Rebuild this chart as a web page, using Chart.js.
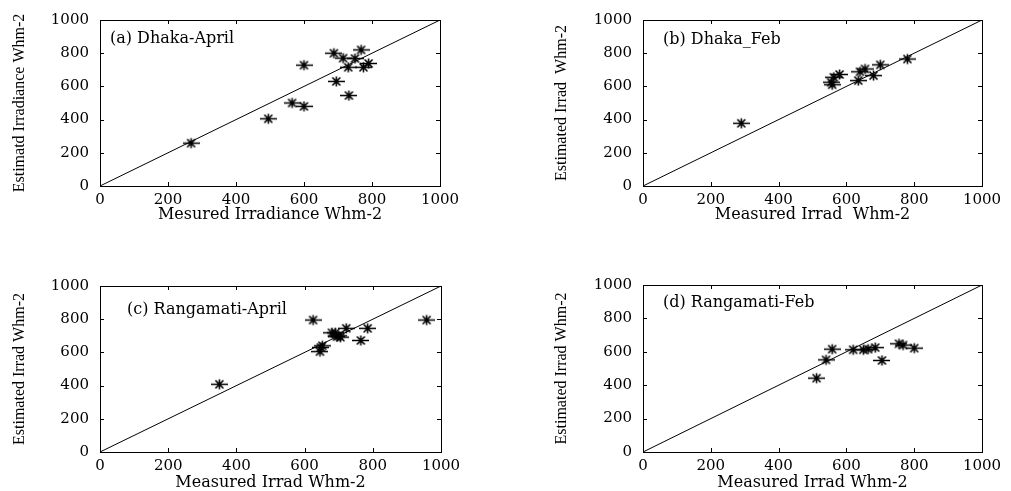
<!DOCTYPE html>
<html>
<head>
<meta charset="utf-8">
<script src="https://cdn.jsdelivr.net/npm/chart.js@4.4.0/dist/chart.umd.min.js"></script>
<style>
body{margin:0;background:#fff;width:1011px;height:491px;overflow:hidden;position:relative}
.pnl{position:absolute}
</style>
</head>
<body>
<div class="pnl" id="boxA"><canvas id="chA"></canvas></div>
<div class="pnl" id="boxB"><canvas id="chB"></canvas></div>
<div class="pnl" id="boxC"><canvas id="chC"></canvas></div>
<div class="pnl" id="boxD"><canvas id="chD"></canvas></div>
<script>
var tickVals = [0, 200, 400, 600, 800, 1000];
var lineX = [0, 1000];
var lineY = [0, 1000];

var dhakaAprX = [268, 495, 565, 600, 600, 688, 715, 750, 768, 730, 775, 790, 695, 732];
var dhakaAprY = [258, 405, 500, 480, 728, 800, 770, 768, 820, 715, 715, 738, 630, 545];
var dhakaFebX = [290, 555, 558, 563, 580, 635, 640, 655, 680, 700, 780];
var dhakaFebY = [378, 625, 610, 655, 672, 635, 688, 705, 665, 730, 765];
var rangAprX = [350, 625, 958, 645, 648, 652, 680, 690, 700, 695, 705, 722, 785, 765];
var rangAprY = [408, 795, 795, 605, 630, 640, 718, 718, 700, 695, 692, 745, 745, 672];
var rangFebX = [512, 540, 558, 620, 650, 664, 685, 705, 755, 767, 800];
var rangFebY = [442, 552, 616, 612, 612, 616, 625, 548, 648, 640, 622];

function pts(xs, ys){
  var out = [];
  for (var i = 0; i < xs.length; i++) out.push({x: xs[i], y: ys[i]});
  return out;
}

// matlab style '*' marker, a bit wider than tall like the scan
function makeStar(){
  var cv = document.createElement('canvas');
  cv.width = 17; cv.height = 13;
  var g = cv.getContext('2d');
  g.strokeStyle = '#000'; g.lineWidth = 1.6;
  g.beginPath();
  g.moveTo(0, 6.5); g.lineTo(17, 6.5);
  g.moveTo(8.5, 1.5); g.lineTo(8.5, 11.5);
  g.moveTo(4.5, 2.5); g.lineTo(12.5, 10.5);
  g.moveTo(12.5, 2.5); g.lineTo(4.5, 10.5);
  g.stroke();
  return cv;
}
var star = makeStar();

var framePlugin = {
  id: 'frame',
  afterDatasetsDraw: function(chart, args, o){
    var a = chart.chartArea, c = chart.ctx, sx = chart.scales.x, sy = chart.scales.y;
    c.save();
    c.strokeStyle = '#000'; c.lineWidth = 1;
    c.strokeRect(Math.round(a.left) + 0.5, Math.round(a.top) + 0.5, Math.round(a.right - a.left), Math.round(a.bottom - a.top));
    c.beginPath();
    tickVals.forEach(function(t){
      var px = Math.round(sx.getPixelForValue(t)) + 0.5, py = Math.round(sy.getPixelForValue(t)) + 0.5;
      c.moveTo(px, a.bottom); c.lineTo(px, a.bottom - 4);
      c.moveTo(px, a.top); c.lineTo(px, a.top + 4);
      c.moveTo(a.left, py); c.lineTo(a.left + 4, py);
      c.moveTo(a.right, py); c.lineTo(a.right - 4, py);
    });
    c.stroke();
    c.font = '16px "DejaVu Serif"'; c.fillStyle = '#000'; c.textBaseline = 'middle';
    c.fillText(o.label, a.left + o.dx, a.top + o.dy);
    c.restore();
  }
};

function plain(v){ return String(v); }

function panel(id, boxId, box, area, xs, ys, label, dx, dy, xTitle, yTitle, yTitleX, xTitleY){
  var b = document.getElementById(boxId);
  b.style.left = box[0] + 'px'; b.style.top = box[1] + 'px';
  b.style.width = box[2] + 'px'; b.style.height = box[3] + 'px';
  var yw = area[0] - box[0];
  var xh = box[1] + box[3] - area[3];
  new Chart(document.getElementById(id), {
    type: 'scatter',
    data: {
      datasets: [
        {data: pts(xs, ys), pointStyle: star, pointRadius: 8, pointHoverRadius: 8, showLine: false},
        {data: pts(lineX, lineY), showLine: true, borderColor: '#000', borderWidth: 1, pointRadius: 0, pointHoverRadius: 0}
      ]
    },
    options: {
      animation: false,
      responsive: true,
      maintainAspectRatio: false,
      layout: {padding: {left: 0, top: area[1] - box[1], right: box[0] + box[2] - area[2], bottom: 0}},
      plugins: {legend: {display: false}, tooltip: {enabled: false},
        frame: {label: label, dx: dx, dy: dy}},
      scales: {
        x: {
          type: 'linear', min: 0, max: 1000,
          grid: {display: false, drawTicks: false}, border: {display: false},
          ticks: {stepSize: 200, autoSkip: false, maxRotation: 0, padding: 5, color: '#000',
            font: {family: 'DejaVu Serif', size: 15}, callback: plain},
          title: {display: true, text: xTitle, color: '#000', font: {family: 'DejaVu Serif', size: 16},
            padding: {top: 0, bottom: box[1] + box[3] - xTitleY - 9.6}},
          afterFit: function(s){ s.height = xh; }
        },
        y: {
          type: 'linear', min: 0, max: 1000,
          grid: {display: false, drawTicks: false}, border: {display: false},
          ticks: {stepSize: 200, padding: 11, color: '#000',
            font: {family: 'DejaVu Serif', size: 15}, callback: plain},
          title: {display: true, text: yTitle, color: '#000', font: {family: 'Liberation Serif', size: 16},
            padding: {top: yTitleX - box[0] - 9.6, bottom: 0}},
          afterFit: function(s){ s.width = yw; }
        }
      }
    },
    plugins: [framePlugin]
  });
}

panel('chA', 'boxA', [0, 0, 470, 245], [100, 19, 440, 186], dhakaAprX, dhakaAprY,
  '(a) Dhaka-April', 10, 19, 'Mesured Irradiance Whm-2', 'Estimatd Irradiance Whm-2', 20, 215);
panel('chB', 'boxB', [530, 0, 481, 245], [643, 19, 982, 186], dhakaFebX, dhakaFebY,
  '(b) Dhaka_Feb', 20, 20, 'Measured Irrad  Whm-2', 'Estimated Irrad  Whm-2', 562, 215);
panel('chC', 'boxC', [0, 262, 470, 240], [100, 286, 441, 452], rangAprX, rangAprY,
  '(c) Rangamati-April', 27, 24, 'Measured Irrad Whm-2', 'Estimated Irrad Whm-2', 20, 483);
panel('chD', 'boxD', [530, 262, 481, 240], [643, 285, 982, 452], rangFebX, rangFebY,
  '(d) Rangamati-Feb', 20, 18, 'Measured Irrad Whm-2', 'Estimated Irrad Whm-2', 562, 483);
</script>
</body>
</html>
